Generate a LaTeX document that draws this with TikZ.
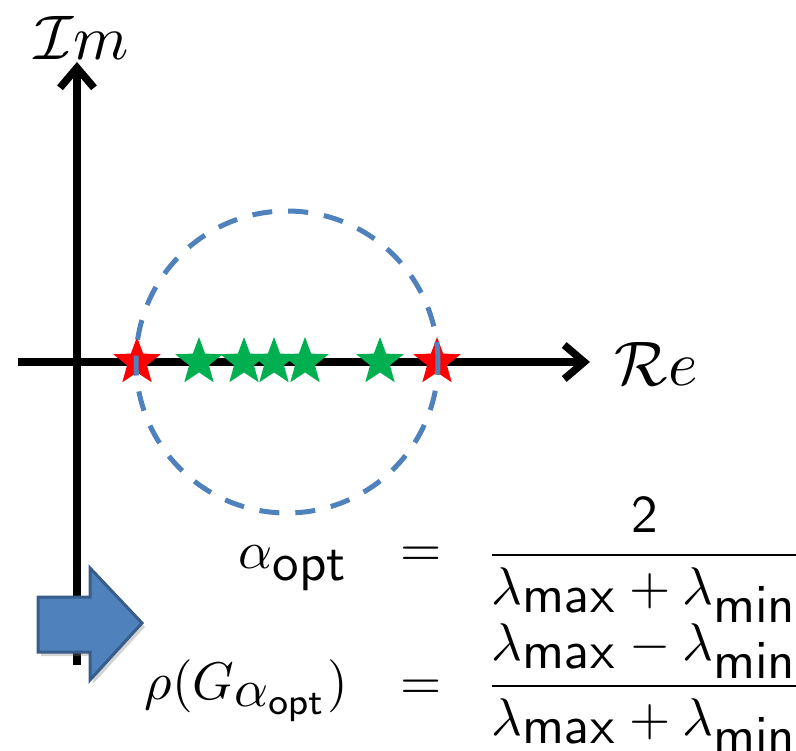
\documentclass[tikz,border=0pt]{standalone}
\usepackage{amsmath}
\usepackage{graphicx}
\usepackage{xcolor}
\usetikzlibrary{positioning, arrows.meta, shapes.geometric, shadows}

\definecolor{ringblue}{RGB}{79,129,189}
\definecolor{arrowedge}{RGB}{56,93,138}
\definecolor{stargreen}{RGB}{0,176,80}

\newcommand{\eqbig}[1]{\scalebox{5.3}{$\displaystyle #1$}}
\newcommand{\axbig}[1]{\scalebox{6.3}{$#1$}}
\newcommand{\opt}{\textstyle\mathsf{opt}}
\newcommand{\lmax}{\lambda_{\textstyle\mathsf{max}}}
\newcommand{\lmin}{\lambda_{\textstyle\mathsf{min}}}

\begin{document}
\begin{tikzpicture}[x=1pt, y=-1pt,
    axis/.style={line width=7.5pt, -{Straight Barb[length=20pt, width=34pt]}},
    eigen/.style={star, star points=5, star point ratio=2.4, minimum size=50pt, inner sep=0pt},
    ring/.style={circle, draw=ringblue, line width=5pt, dash pattern=on 20pt off 16pt, minimum size=302pt, inner sep=0pt},
    block/.style={fill=ringblue, draw=arrowedge, line width=3pt,
        drop shadow={opacity=0.35, shadow xshift=3pt, shadow yshift=-4pt}}
]
\useasboundingbox (0,0) rectangle (796,751);

% axes
\coordinate (xl) at (18,362);
\coordinate (xr) at (590,362);
\coordinate (yb) at (77,665);
\coordinate (yt) at (77,62);
\draw[axis] (xl) -- (xr);
\draw[axis] (yb) -- (yt);
\node (im) at (82,38) {\axbig{\mathcal{I}m}};
\node (re) at (656,364) {\axbig{\mathcal{R}e}};

% eigenvalues
\foreach \x/\c [count=\i] in {137/red, 199/stargreen, 244/stargreen, 274/stargreen,
    305/stargreen, 380/stargreen, 437/red}
    \node[eigen, fill=\c] (s\i) at (\x,362) {};

% circle
\node[ring] (c) at (287,362) {};

% arrow
\path[block] (38,597) -- (90,597) -- (90,568) -- (142,623) -- (90,680)
    -- (90,652) -- (38,652) -- cycle;

% formulas
\node[anchor=base east] (alpha) at (352,568) {\eqbig{\alpha_{\opt}}};
\node[anchor=base] (eq1) at (421,566) {\eqbig{=}};
\node[anchor=base] (frac1) at (645,568) {\eqbig{\dfrac{\mathsf{2}}{\lmax+\lmin}}};

\node[anchor=base east] (rho) at (352,699) {\eqbig{\rho(G_{\textstyle\alpha_{\mathsf{opt}}})}};
\node[anchor=base] (eq2) at (421,699) {\eqbig{=}};
\node[anchor=base] (frac2) at (645,699) {\eqbig{\dfrac{\lmax-\lmin}{\lmax+\lmin}}};

\end{tikzpicture}
\end{document}
